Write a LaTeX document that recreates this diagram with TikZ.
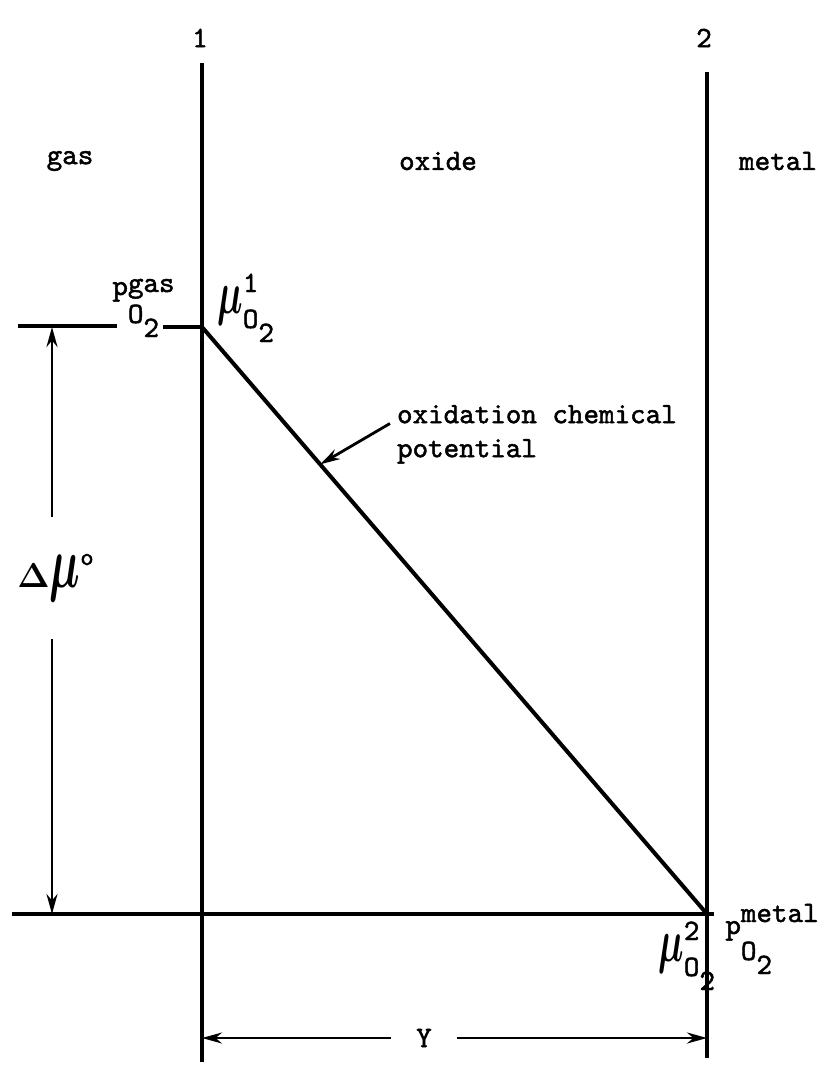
\documentclass[tikz,border=0pt]{standalone}
\usepackage{amsmath}
\usepackage{graphicx}
\usepackage{fontspec}
\setmonofont{lmmono10-regular.otf}[FakeBold=1.6]
\usepackage{tikz}
\usetikzlibrary{arrows.meta, calc}
\newcommand{\hmu}{\scalebox{1.25}[2.1]{$\boldsymbol{\mu}$}}
\newcommand{\supsub}[3]{\rlap{\raisebox{#3}{O\raisebox{-7pt}{2}}}\raisebox{#2}{#1}}

\begin{document}
\begin{tikzpicture}[x=0.5pt, y=-0.5pt,
  font=\fontsize{14.8}{17}\selectfont\ttfamily,
  wall/.style={line width=2.2pt},
  level/.style={line width=1.8pt},
  dim/.style={line width=1.4pt, -{Stealth[length=10pt, width=5.5pt]}},
  lab/.style={inner sep=0pt, anchor=base west}]
\useasboundingbox (0,0) rectangle (821,1066);
\coordinate (w1top) at (202,63);
\coordinate (w1bot) at (202,1062);
\coordinate (w2top) at (707,72);
\coordinate (w2bot) at (707,1058);
\draw[wall] (w1top) -- (w1bot);
\draw[wall] (w2top) -- (w2bot);
\node (n1) at (200,38) {1};
\node (n2) at (704,38) {2};
\node (gas) at (70,161) {gas};
\node (oxide) at (438,161) {oxide};
\node (metal) at (778,161) {metal};

\coordinate (gasL) at (18,326);
\coordinate (gasR) at (117,326);
\coordinate (s1) at (163,327);
\coordinate (p1) at (202,327);
\coordinate (p2) at (707,914);
\coordinate (metL) at (12,914);
\coordinate (metR) at (714,914);
\draw[level] (gasL) -- (gasR);
\draw[level] (s1) -- (p1);
\draw[level] (metL) -- (metR);
\draw[line width=2pt] (p1) -- (p2);

\node[lab] (pgas) at (112,295) {p\supsub{gas}{1.5pt}{-14pt}};
\node[lab] (mu1) at (217,313) {\hmu\supsub{1}{10.5pt}{-7.5pt}};
\node[lab] (pmetal) at (725,934) {p\supsub{metal}{6pt}{-13pt}};
\node[lab] (mu2) at (658,961) {\hmu\supsub{2}{10.5pt}{-7.5pt}};

\coordinate (dtop) at (52,327);
\coordinate (dbot) at (52,914);
\node[minimum height=61pt, font=\fontsize{18}{20}\selectfont] (dmu) at (56,578)
  {$\boldsymbol{\Delta}\hmu^{\texttt{o}}$};
\draw[dim] (dmu.north -| dtop) -- (dtop);
\draw[dim] (dmu.south -| dtop) -- (dbot);

\node[anchor=north west, align=left] (curve) at (390,398) {oxidation chemical\\potential};
\coordinate (onD) at ($(p1)!0.234!(p2)$);
\draw[dim] ($(curve.north west)!0.35!(curve.south west)$) -- (onD);

\coordinate (yl) at (202,1038);
\coordinate (yr) at (707,1038);
\node[minimum width=33pt] (ylab) at (424,1038) {Y};
\draw[dim] (ylab.west |- yl) -- (yl);
\draw[dim] (ylab.east |- yr) -- (yr);
\end{tikzpicture}
\end{document}
